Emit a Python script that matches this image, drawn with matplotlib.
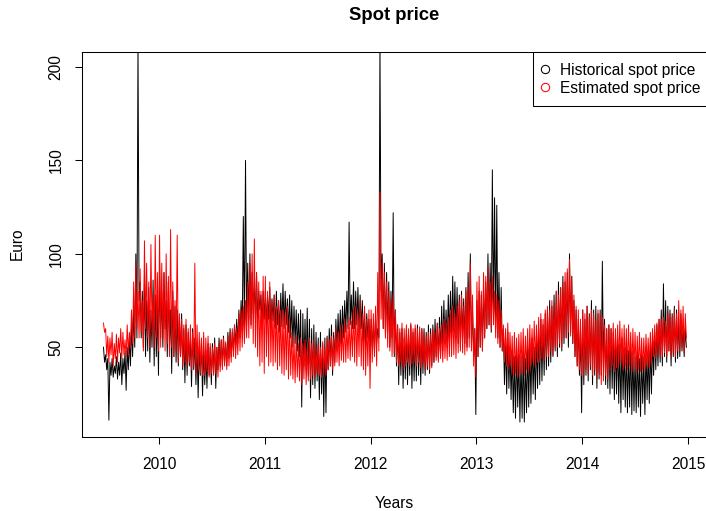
import numpy as np
import matplotlib
matplotlib.use("Agg")
import matplotlib.pyplot as plt
from matplotlib.lines import Line2D

plt.rcParams['font.family'] = ['Liberation Sans', 'DejaVu Sans']

# weekly high / low readings, one list per year (2009 starts late June)
hist_2009 = [50, 42, 46, 38, 44, 11, 42, 35, 44, 34, 40, 36, 45, 33, 42, 35, 47, 30, 44, 36,
             48, 27, 50, 38, 55, 40, 62, 45, 70, 50, 100, 55, 215, 75, 85, 55, 80, 50, 88, 45,
             75, 48, 82, 42, 70, 50, 86, 40, 78, 45, 72, 35]
est_2009 = [63, 58, 60, 45, 56, 42, 55, 46, 58, 40, 52, 44, 57, 42, 55, 47, 60, 44, 58, 46,
            54, 45, 62, 46, 58, 50, 70, 52, 85, 55, 95, 60, 80, 55, 92, 58, 75, 48, 107, 60,
            95, 55, 85, 50, 105, 58, 78, 50, 110, 55, 90, 48]

hist_2010 = [95, 55, 80, 50, 90, 60, 75, 45,
             85, 50, 70, 36, 80, 45, 72, 42,
             70, 40, 65, 45, 68, 38, 60, 31,
             62, 35, 58, 40, 55, 29, 60, 38,
             55, 30, 52, 23, 50, 35, 54, 24,
             50, 30, 48, 28, 52, 35, 50, 30,
             52, 36, 55, 28, 50, 38, 55, 40,
             54, 40, 56, 42, 52, 40, 58, 44,
             60, 45, 58, 48, 62, 50, 65, 52,
             70, 55, 75, 58, 120, 60, 150, 62,
             95, 65, 100, 62, 90, 68, 85, 65,
             90, 65, 80, 70, 78, 62, 80, 65]
est_2010 = [110, 50, 95, 55, 90, 48, 100, 52,
            88, 45, 113, 50, 85, 45, 75, 48,
            110, 42, 68, 45, 65, 40, 62, 42,
            65, 40, 60, 42, 62, 38, 58, 40,
            95, 35, 62, 38, 58, 36, 55, 35,
            58, 35, 55, 37, 56, 34, 52, 36,
            50, 35, 52, 36, 50, 34, 52, 37,
            54, 38, 55, 40, 53, 38, 56, 40,
            58, 42, 60, 45, 62, 44, 60, 46,
            68, 48, 70, 50, 72, 52, 75, 55,
            85, 55, 95, 60, 100, 52, 108, 50,
            90, 45, 85, 40, 80, 42, 88, 36]

hist_2011 = [80, 62, 78, 65, 82, 60, 76, 64,
             78, 60, 80, 62, 75, 58, 79, 61,
             84, 60, 80, 62, 76, 58, 78, 55,
             75, 50, 72, 52, 70, 48, 68, 45,
             70, 18, 68, 40, 65, 38, 71, 35,
             65, 23, 60, 30, 62, 28, 58, 32,
             55, 22, 58, 25, 52, 13, 55, 15,
             56, 38, 60, 40, 62, 35, 58, 42,
             65, 48, 68, 50, 70, 52, 72, 55,
             75, 58, 80, 60, 117, 62, 78, 60,
             85, 60, 80, 62, 82, 58, 78, 60,
             75, 52, 70, 50, 68, 55, 65, 48]
est_2011 = [88, 45, 80, 40, 85, 42, 75, 40,
            78, 42, 72, 38, 75, 40, 70, 36,
            70, 35, 68, 38, 72, 33, 65, 35,
            58, 33, 55, 31, 56, 34, 52, 32,
            55, 30, 52, 33, 54, 30, 50, 32,
            55, 33, 52, 35, 54, 34, 50, 36,
            52, 35, 50, 34, 53, 36, 50, 35,
            55, 38, 54, 40, 56, 38, 55, 40,
            60, 42, 58, 40, 62, 43, 60, 42,
            65, 42, 62, 44, 66, 43, 64, 45,
            70, 42, 72, 40, 68, 45, 75, 40,
            68, 38, 72, 35, 65, 40, 70, 28]

hist_2012 = [65, 50, 62, 48, 66, 52, 60, 55,
             215, 80, 100, 60, 95, 55, 90, 58,
             85, 50, 80, 55, 122, 45, 70, 40,
             62, 30, 58, 35, 60, 28, 55, 33,
             60, 30, 57, 35, 62, 28, 58, 32,
             60, 32, 62, 35, 58, 30, 60, 36,
             60, 35, 58, 38, 62, 36, 60, 40,
             62, 42, 65, 45, 63, 44, 66, 46,
             72, 48, 75, 52, 70, 50, 78, 55,
             80, 55, 88, 58, 85, 55, 82, 52,
             78, 50, 80, 55, 76, 52, 82, 50,
             90, 55, 100, 52, 70, 45, 60, 14]
est_2012 = [70, 42, 68, 45, 72, 40, 90, 48,
            133, 65, 95, 60, 90, 55, 85, 50,
            80, 48, 75, 45, 78, 47, 70, 42,
            62, 40, 60, 42, 63, 38, 60, 40,
            62, 42, 60, 40, 63, 41, 60, 42,
            62, 40, 60, 42, 61, 39, 60, 41,
            58, 38, 56, 40, 58, 38, 57, 39,
            60, 42, 58, 43, 62, 42, 60, 44,
            62, 42, 65, 44, 63, 43, 66, 45,
            70, 45, 72, 46, 68, 44, 72, 47,
            75, 48, 78, 47, 72, 46, 80, 48,
            82, 50, 95, 48, 78, 40, 60, 34]

hist_2013 = [75, 45, 80, 50, 78, 48, 82, 55,
             85, 60, 100, 62, 95, 58, 145, 65,
             130, 60, 126, 55, 90, 50, 82, 48,
             60, 30, 55, 25, 58, 28, 50, 22,
             48, 15, 45, 12, 50, 18, 46, 10,
             45, 12, 48, 10, 44, 15, 50, 18,
             52, 20, 55, 25, 50, 22, 56, 28,
             60, 30, 65, 32, 62, 35, 68, 38,
             70, 40, 75, 42, 72, 45, 78, 48,
             80, 45, 85, 50, 82, 48, 88, 52,
             85, 55, 90, 50, 100, 58, 88, 52,
             75, 45, 70, 40, 65, 35, 60, 15]
est_2013 = [85, 45, 88, 50, 80, 48, 90, 55,
            88, 60, 93, 62, 85, 60, 88, 62,
            80, 55, 78, 52, 75, 50, 70, 48,
            62, 42, 60, 40, 63, 38, 58, 40,
            56, 35, 58, 36, 55, 34, 57, 36,
            58, 36, 60, 35, 56, 38, 60, 37,
            62, 40, 60, 42, 64, 40, 62, 42,
            66, 42, 68, 44, 65, 43, 70, 45,
            72, 45, 70, 48, 75, 46, 72, 50,
            80, 50, 78, 52, 82, 50, 85, 55,
            90, 55, 92, 58, 97, 56, 88, 52,
            78, 45, 72, 40, 70, 38, 65, 35]

hist_2014 = [70, 30, 65, 35, 72, 32, 68, 38,
             75, 30, 70, 35, 72, 28, 68, 33,
             70, 35, 96, 40, 65, 30, 60, 28,
             62, 25, 60, 28, 58, 22, 55, 25,
             55, 20, 52, 15, 55, 22, 50, 18,
             50, 15, 48, 18, 52, 14, 48, 16,
             45, 15, 48, 18, 44, 13, 46, 20,
             45, 14, 50, 22, 48, 20, 52, 25,
             55, 35, 58, 38, 62, 40, 65, 42,
             70, 40, 84, 45, 75, 42, 72, 48,
             70, 40, 68, 45, 72, 42, 70, 44,
             65, 45, 68, 48, 62, 45, 60, 50]
est_2014 = [70, 35, 68, 38, 72, 36, 66, 40,
            70, 35, 68, 38, 65, 33, 70, 36,
            68, 30, 66, 32, 62, 35, 60, 33,
            62, 38, 60, 40, 63, 37, 60, 39,
            62, 40, 64, 42, 60, 38, 62, 40,
            60, 38, 62, 40, 58, 37, 60, 39,
            58, 36, 56, 38, 58, 37, 55, 38,
            55, 38, 57, 40, 55, 39, 58, 41,
            60, 45, 62, 44, 63, 46, 65, 45,
            65, 45, 66, 47, 64, 45, 68, 48,
            68, 45, 66, 47, 70, 45, 68, 48,
            75, 48, 70, 50, 72, 47, 68, 55]

# (start, end) of each chunk in decimal years
periods = [(2009.47, 2010.0), (2010.0, 2011.0), (2011.0, 2012.0),
           (2012.0, 2013.0), (2013.0, 2014.0), (2014.0, 2014.99)]
hist_chunks = [hist_2009, hist_2010, hist_2011, hist_2012, hist_2013, hist_2014]
est_chunks = [est_2009, est_2010, est_2011, est_2012, est_2013, est_2014]

t = []
for (a, b), h in zip(periods, hist_chunks):
    n = len(h)
    t.extend(a + (np.arange(n) + 0.5) * (b - a) / n)
t = np.array(t)
hist = np.concatenate(hist_chunks)
est = np.concatenate(est_chunks)

fig = plt.figure(figsize=(7.06, 5.11), dpi=100)
ax = fig.add_axes([82 / 706, 74 / 511, 625 / 706, 385 / 511])

ax.plot(t, hist, color='black', lw=0.7)
ax.plot(t, est, color='red', lw=0.7)

ax.set_xlim(2009.272, 2015.18)
ax.set_ylim(2, 208)
ax.set_xticks([2010, 2011, 2012, 2013, 2014, 2015])
ax.set_yticks([50, 100, 150, 200])
ax.tick_params(direction='out', length=5.2, width=0.75, labelsize=11.2, colors='black')
ax.tick_params(axis='x', pad=9)
ax.tick_params(axis='y', pad=8)
for lab in ax.get_yticklabels():
    lab.set_rotation(90)
    lab.set_va('center')
for s in ax.spines.values():
    s.set_linewidth(0.75)

fig.text(394 / 706, 1 - 15 / 511, "Spot price", ha='center', va='center',
         fontsize=13.3, fontweight='bold')
fig.text(394 / 706, 1 - 503 / 511, "Years", ha='center', va='center', fontsize=11.2)
fig.text(17 / 706, 1 - 244 / 511, "Euro", ha='center', va='center', fontsize=11.2,
         rotation=90)

handles = [Line2D([], [], ls='none', marker='o', mfc='none', mec='black', ms=6, mew=0.75),
           Line2D([], [], ls='none', marker='o', mfc='none', mec='red', ms=6, mew=0.75)]
leg = ax.legend(handles, ["Historical spot price", "Estimated spot price"],
                loc='upper right', bbox_to_anchor=(1.007, 1.0), borderaxespad=0,
                fontsize=11.2, fancybox=False, framealpha=1, edgecolor='black',
                borderpad=0.7, labelspacing=0.17, handlelength=0.2, handletextpad=0.85)
leg.get_frame().set_linewidth(0.75)

fig.savefig("out.png", dpi=100)
